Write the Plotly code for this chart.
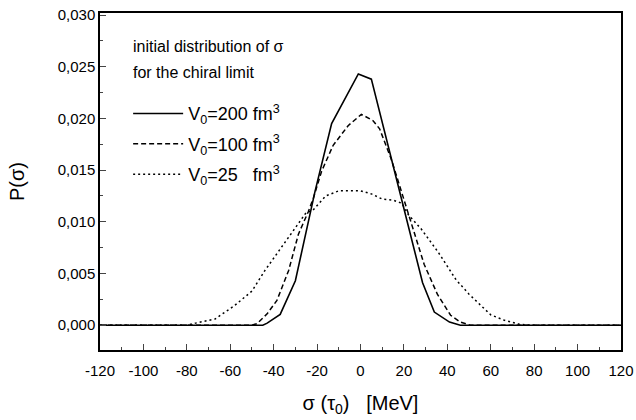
import plotly.graph_objects as go

# V0 = 200 fm^3 (solid)
x200 = [-120, -45, -43, -37, -30, -21, -13.3, -1, 5, 18, 26.3, 28.6, 34, 41, 46, 120]
y200 = [0, 0, 0.0002, 0.00105, 0.0043, 0.0129, 0.0195, 0.0243, 0.0238, 0.0130, 0.0060, 0.0041, 0.00127, 0.0003, 0, 0]

# V0 = 100 fm^3 (dashed)
x100 = [-120, -50, -47.6, -43, -38.5, -33.1, -28.6, -24, -21.7, -17.9, -12.6, -5.7, 0.4, 5.7, 8.8, 14.1, 18, 21.7, 24.8, 29.3, 35.4, 41.5, 46, 50.6, 120]
y100 = [0, 0, 0.00016, 0.0011, 0.0024, 0.0053, 0.0088, 0.0110, 0.0123, 0.0149, 0.0174, 0.0193, 0.0204, 0.0198, 0.0190, 0.0161, 0.0135, 0.0110, 0.0091, 0.0059, 0.0030, 0.00096, 0.0003, 0, 0]

# V0 = 25 fm^3 (dotted)
x25 = [-120, -80, -76, -67, -58, -50, -44, -37, -30, -25, -22, -16, -10, -5, 0, 5, 10, 15, 19, 22, 28, 36, 44, 50, 55, 60, 66, 73, 78, 120]
y25 = [0, 0, 0.0002, 0.0006, 0.0019, 0.0033, 0.0053, 0.0074, 0.0095, 0.0109, 0.0111, 0.0125, 0.0130, 0.0130, 0.0130, 0.0127, 0.0122, 0.0121, 0.0118, 0.0107, 0.0093, 0.0070, 0.0044, 0.0030, 0.0020, 0.0010, 0.0005, 0.0001, 0, 0]

xticks = list(range(-120, 121, 20))
xticktext = [str(v) for v in xticks]  # hyphen minus as in the original
yticks = [0.000, 0.005, 0.010, 0.015, 0.020, 0.025, 0.030]

legend_title_lines = ["initial distribution of σ", "for the chiral limit"]

fig = go.Figure()
fig.add_trace(go.Scatter(x=x200, y=y200, mode="lines", name="V<sub>0</sub>=200 fm<sup>3</sup>",
                         line=dict(color="black", width=1.6), legendgroup="a"))
fig.add_trace(go.Scatter(x=x100, y=y100, mode="lines", name="V<sub>0</sub>=100 fm<sup>3</sup>",
                         line=dict(color="black", width=1.5, dash="5px,3px"), legendgroup="b"))
fig.add_trace(go.Scatter(x=x25, y=y25, mode="lines", name="V<sub>0</sub>=25   fm<sup>3</sup>",
                         line=dict(color="black", width=1.5, dash="2px,3px"), legendgroup="c"))

font = "Liberation Sans, Arial, sans-serif"
for i, (txt, yy) in enumerate(zip(legend_title_lines, [0.902, 0.822])):
    fig.add_annotation(text=txt, xref="paper", yref="paper", x=0.06, y=yy,
                       xanchor="left", yanchor="middle", showarrow=False,
                       font=dict(size=16, family=font, color="black"))

fig.update_layout(
    width=636, height=420,
    margin=dict(l=100, r=15, t=13, b=70),
    paper_bgcolor="white", plot_bgcolor="white",
    separators=",.",
    font=dict(family=font, color="black", size=15),
    showlegend=True,
    legend=dict(
        x=0.054, y=0.756, xanchor="left", yanchor="top",
        bgcolor="rgba(0,0,0,0)", borderwidth=0,
        font=dict(size=18), itemwidth=50,
        tracegroupgap=4,
    ),
    xaxis=dict(
        range=[-120, 120], tickvals=xticks, ticktext=xticktext, ticks="inside", ticklen=6, tickwidth=1.3,
        minor=dict(dtick=10, tick0=0, ticks="inside", ticklen=3, tickwidth=1.2),
        showline=True, linecolor="black", linewidth=1.5, mirror=True, showgrid=False, zeroline=False,
        tickfont=dict(size=15), ticklabelstandoff=6, automargin=False,
        title=dict(text="σ (τ<sub>0</sub>)   [MeV]", font=dict(size=20), standoff=18),
    ),
    yaxis=dict(
        range=[-0.0024, 0.0302], tickvals=yticks, tickformat=".3f", ticks="inside", ticklen=6, tickwidth=1.3,
        minor=dict(dtick=0.0025, tick0=0, ticks="inside", ticklen=3, tickwidth=1.2),
        showline=True, linecolor="black", linewidth=1.5, mirror=True, showgrid=False, zeroline=False,
        tickfont=dict(size=15), automargin=False,
        title=dict(text="P(σ)", font=dict(size=20), standoff=28),
    ),
)

fig.write_html("out.html")
